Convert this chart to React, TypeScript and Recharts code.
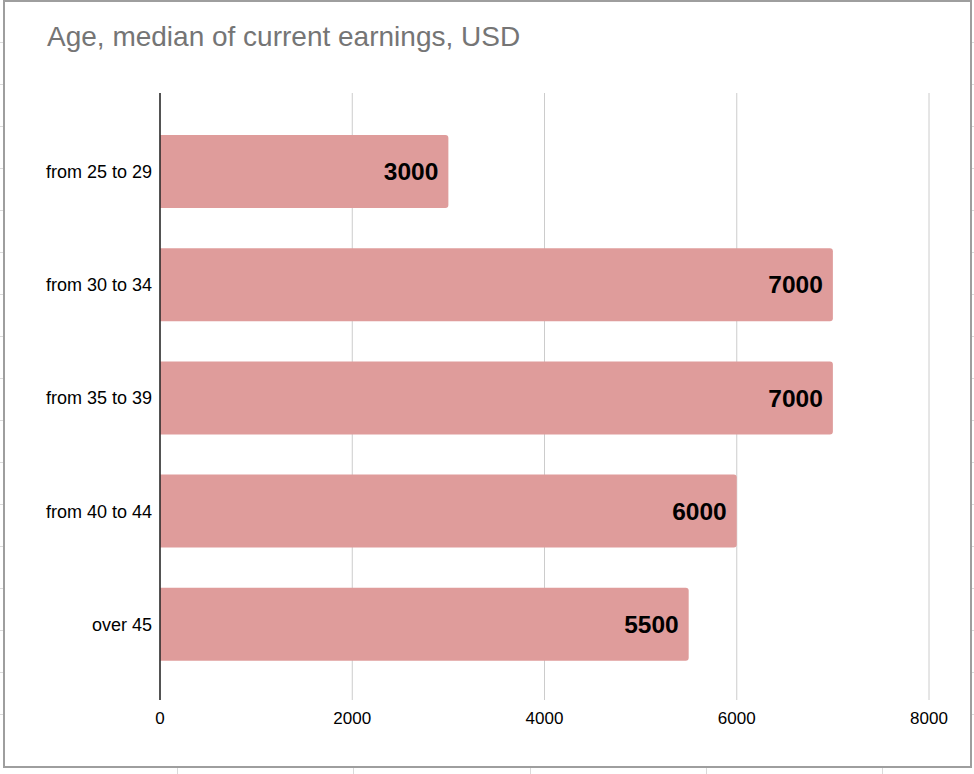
import React from 'react';
import { BarChart, Bar, XAxis, YAxis, CartesianGrid, LabelList } from 'recharts';

const ageGroups = ['from 25 to 29', 'from 30 to 34', 'from 35 to 39', 'from 40 to 44', 'over 45'];
const medianEarnings = [3000, 7000, 7000, 6000, 5500];
const xTicks = [0, 2000, 4000, 6000, 8000];

const rows = ageGroups.map((age, i) => ({ age, earnings: medianEarnings[i] }));

const FONT = '"Liberation Sans", Arial, sans-serif';

// faint sheet cells peeking out around the chart frame
const sheetRowsY = [42, 84, 126, 168, 210, 252, 294, 336, 378, 420, 462, 504, 546, 588, 630, 672, 714];
const sheetColsX = [177, 353, 530, 706, 882];

export default function App() {
  return (
    <div style={{ position: 'fixed', left: 0, top: 0, width: 974, height: 774, background: '#fff', fontFamily: FONT, overflow: 'hidden' }}>
      {sheetRowsY.map(y => (
        <React.Fragment key={y}>
          <div style={{ position: 'absolute', left: 0, top: y, width: 3, height: 1, background: '#dadada' }} />
          <div style={{ position: 'absolute', left: 970, top: y, width: 4, height: 1, background: '#dadada' }} />
        </React.Fragment>
      ))}
      {sheetColsX.map(x => (
        <div key={x} style={{ position: 'absolute', left: x, top: 768, width: 1, height: 6, background: '#dadada' }} />
      ))}
      <div
        style={{
          position: 'absolute', left: 3, top: 0, width: 965, height: 764,
          border: '2px solid #9e9e9e', background: '#fff',
        }}
      />
      <div style={{ position: 'absolute', left: 47, top: 21, fontSize: 28, color: '#757575', whiteSpace: 'nowrap' }}>
        Age, median of current earnings, USD
      </div>
      <div style={{ position: 'absolute', left: 0, top: 0 }}>
        <BarChart
          width={974}
          height={774}
          data={rows}
          layout="vertical"
          margin={{ top: 93, right: 45, bottom: 44, left: 0 }}
        >
          <CartesianGrid horizontal={false} stroke="#cccccc" />
          <XAxis
            type="number"
            domain={[0, 8000]}
            ticks={xTicks}
            tickLine={false}
            axisLine={false}
            height={30}
            tickMargin={6}
            tick={{ fill: '#000', fontSize: 17, fontFamily: FONT }}
          />
          <YAxis
            type="category"
            dataKey="age"
            width={160}
            padding={{ top: 22, bottom: 19 }}
            tickLine={false}
            axisLine={{ stroke: '#222', strokeWidth: 1.5 }}
            tickMargin={2}
            tick={{ fill: '#000', fontSize: 18, fontFamily: FONT }}
          />
          <Bar dataKey="earnings" fill="#df9c9b" barSize={73} radius={[0, 3, 3, 0]} isAnimationActive={false}>
            <LabelList
              dataKey="earnings"
              position="insideRight"
              offset={10}
              style={{ fill: '#000', fontSize: 24.5, fontWeight: 'bold', fontFamily: FONT }}
            />
          </Bar>
        </BarChart>
      </div>
    </div>
  );
}
